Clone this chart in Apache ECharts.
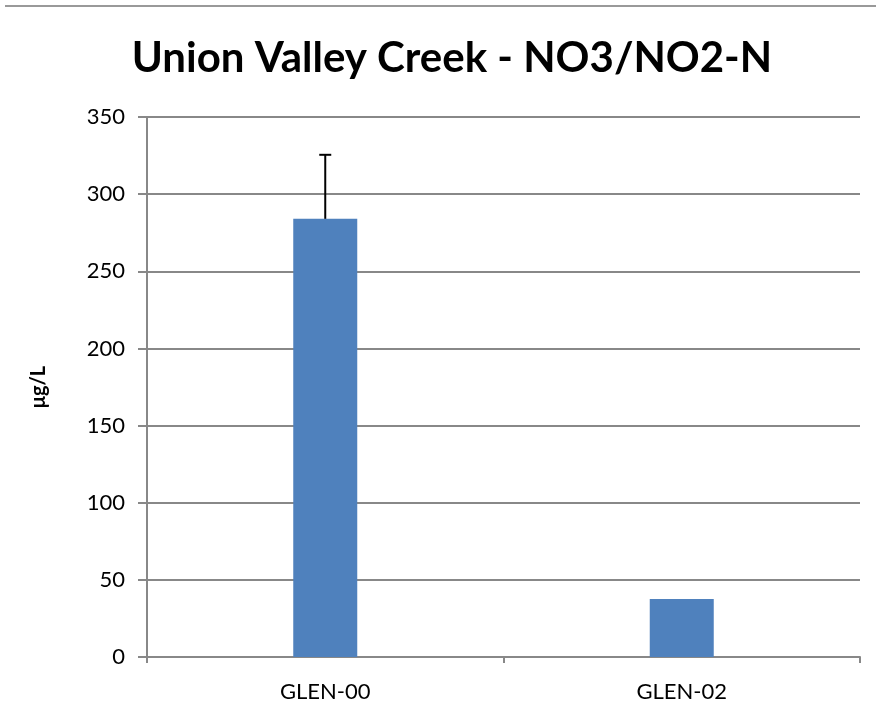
<!DOCTYPE html>
<html>
<head>
<meta charset="utf-8">
<script src="https://cdn.jsdelivr.net/npm/echarts@6/dist/echarts.min.js"></script>
<style>
  html, body { margin: 0; padding: 0; background: #fff; }
  #main { width: 876px; height: 719px; }
</style>
</head>
<body>
<div id="main"></div>
<script>
  // data
  const categories = ['GLEN-00', 'GLEN-02']
  const values = [284, 37.6]
  const errorTops = [325.5, null]   // upper error bar end, none on GLEN-02
  const yTicks = { min: 0, max: 350, interval: 50 }

  const font = 'Lato, "Open Sans", sans-serif'
  const gray = '#888888'

  const myChart = echarts.init(document.getElementById('main'))

  const errData = categories.map((c, i) => [i, values[i], errorTops[i]])

  const option = {
    animation: false,
    graphic: [{
      type: 'line',
      shape: { x1: 5, y1: 6, x2: 876, y2: 6 },
      style: { stroke: '#999', lineWidth: 2 }
    }],
    title: {
      text: 'Union Valley Creek - NO3/NO2-N',
      left: 447,
      textAlign: 'center',
      top: 32,
      textStyle: { fontFamily: font, fontSize: 42, fontWeight: 'bold', color: '#000' }
    },
    grid: { left: 147, right: 16, top: 117, bottom: 62 },
    xAxis: {
      type: 'category',
      data: categories,
      axisLine: { lineStyle: { color: gray, width: 2 } },
      axisTick: { show: true, length: 6, lineStyle: { color: gray, width: 2 } },
      axisLabel: { fontFamily: font, fontSize: 22, color: '#000', margin: 24 }
    },
    yAxis: {
      type: 'value',
      min: yTicks.min,
      max: yTicks.max,
      interval: yTicks.interval,
      name: 'μg/L',
      nameLocation: 'middle',
      nameGap: 98,
      nameTextStyle: { fontFamily: font, fontSize: 20, fontWeight: 'bold', color: '#000' },
      axisLine: { show: true, lineStyle: { color: gray, width: 2 } },
      axisTick: { show: true, length: 9, lineStyle: { color: gray, width: 2 } },
      axisLabel: { fontFamily: font, fontSize: 22, color: '#000', margin: 22 },
      splitLine: { lineStyle: { color: gray, width: 2 } }
    },
    series: [
      {
        type: 'bar',
        data: values,
        barWidth: 64,
        itemStyle: { color: '#4F81BD' }
      },
      {
        type: 'custom',
        data: errData,
        z: 10,
        renderItem: (params, api) => {
          const top = api.value(2)
          if (top === null || top === undefined || isNaN(top)) return
          const p0 = api.coord([api.value(0), api.value(1)])
          const p1 = api.coord([api.value(0), top])
          const half = 6
          return {
            type: 'group',
            children: [
              { type: 'line', shape: { x1: p0[0], y1: p0[1], x2: p1[0], y2: p1[1] }, style: { stroke: '#000', lineWidth: 2 } },
              { type: 'line', shape: { x1: p1[0] - half, y1: p1[1], x2: p1[0] + half, y2: p1[1] }, style: { stroke: '#000', lineWidth: 2 } }
            ]
          }
        }
      }
    ]
  }

  myChart.setOption(option)
</script>
</body>
</html>
